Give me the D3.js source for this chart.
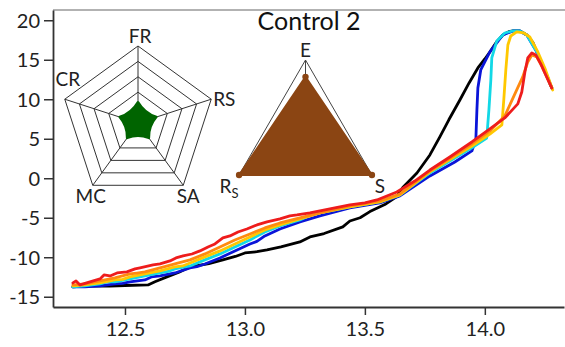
<!DOCTYPE html>
<html>
<head>
<meta charset="utf-8">
<script src="https://cdn.jsdelivr.net/npm/d3@7"></script>
<style>
  body { margin: 0; background: #fff; }
  svg { display: block; font-family: Lato, "Open Sans", sans-serif; }
</style>
</head>
<body>
<svg width="565" height="347"></svg>
<script>
// series data: [x, y] pairs
const black = [[12.283,-13.76],[12.342,-13.63],[12.4375,-13.65],[12.5,-13.58],[12.596,-13.51],[12.625,-13.1],[12.675,-12.49],[12.725,-11.9],[12.771,-11.23],[12.85,-10.8],[12.908,-10.34],[12.96,-9.9],[13.0,-9.46],[13.05,-9.3],[13.092,-9.08],[13.15,-8.7],[13.229,-8.06],[13.271,-7.43],[13.33,-7.0],[13.408,-6.16],[13.4375,-5.41],[13.48,-5.0],[13.521,-4.22],[13.583,-3.33],[13.633,-2.32],[13.658,-1.18],[13.717,0.67],[13.771,2.95],[13.8125,5.23],[13.85,7.4],[13.896,9.91],[13.935,12.1],[13.971,13.96],[14.0,15.1],[14.021,15.99],[14.05,17.3],[14.075,18.14],[14.1,18.55],[14.117,18.65],[14.146,18.65],[14.175,18.14],[14.2,17.2],[14.217,15.99],[14.25,13.7],[14.279,11.43]];
const blue = [[12.283,-13.76],[12.333,-13.76],[12.396,-13.63],[12.458,-13.38],[12.49,-13.3],[12.521,-13.13],[12.583,-12.87],[12.61,-12.5],[12.646,-12.37],[12.708,-11.99],[12.771,-11.35],[12.8,-11.2],[12.833,-10.85],[12.896,-10.09],[12.958,-9.2],[13.021,-8.32],[13.05,-8.0],[13.083,-7.3],[13.146,-6.42],[13.229,-5.53],[13.3125,-4.77],[13.4375,-3.76],[13.5625,-3.13],[13.646,-2.24],[13.771,0.29],[13.875,2.06],[13.946,3.46],[13.9625,4.85],[13.967,8.65],[13.971,11.43],[13.983,13.71],[14.021,15.99],[14.075,18.14],[14.117,18.65],[14.146,18.65],[14.175,18.14],[14.217,15.99],[14.279,11.43]];
const cyan = [[12.283,-13.76],[12.333,-13.63],[12.396,-13.38],[12.43,-13.1],[12.458,-13.13],[12.521,-12.75],[12.583,-12.37],[12.646,-11.99],[12.68,-11.8],[12.708,-11.48],[12.771,-11.1],[12.833,-10.34],[12.896,-9.58],[12.958,-8.7],[13.021,-7.81],[13.083,-6.8],[13.146,-6.04],[13.229,-5.28],[13.27,-4.7],[13.3125,-4.39],[13.4375,-3.63],[13.5625,-3.0],[13.646,-2.11],[13.771,0.67],[13.946,3.84],[14.008,5.1],[14.017,8.65],[14.025,12.44],[14.029,15.23],[14.05,17.38],[14.083,18.39],[14.117,18.65],[14.146,18.65],[14.175,18.14],[14.217,15.99],[14.279,11.43]];
const yellow = [[12.283,-13.63],[12.333,-13.51],[12.396,-13.25],[12.458,-12.87],[12.49,-12.8],[12.521,-12.49],[12.583,-12.11],[12.646,-11.73],[12.708,-11.23],[12.74,-11.1],[12.771,-10.72],[12.833,-9.96],[12.896,-9.2],[12.958,-8.32],[13.021,-7.43],[13.083,-6.54],[13.146,-5.91],[13.229,-5.15],[13.3125,-4.39],[13.4375,-3.63],[13.5625,-3.0],[13.646,-2.11],[13.771,0.8],[13.946,4.08],[14.021,5.6],[14.071,6.75],[14.079,9.91],[14.0875,13.71],[14.096,16.87],[14.108,18.01],[14.133,18.52],[14.1625,18.39],[14.1875,17.88],[14.221,15.99],[14.25,13.96],[14.283,11.18]];
const orange = [[12.283,-13.51],[12.333,-13.38],[12.396,-13.0],[12.458,-12.62],[12.521,-12.11],[12.55,-12.0],[12.583,-11.86],[12.646,-11.35],[12.708,-10.85],[12.771,-10.34],[12.833,-9.58],[12.896,-8.7],[12.958,-7.81],[13.021,-7.05],[13.083,-6.29],[13.146,-5.66],[13.229,-5.03],[13.3125,-4.39],[13.4375,-3.5],[13.5625,-2.87],[13.646,-1.99],[13.771,0.92],[13.946,4.34],[14.021,5.99],[14.083,7.88],[14.133,11.18],[14.158,12.83],[14.179,14.72],[14.196,15.61],[14.217,15.35],[14.2375,14.21],[14.258,12.83],[14.279,11.43]];
const red = [[12.283,-13.25],[12.296,-13.0],[12.3125,-13.51],[12.354,-13.13],[12.396,-12.75],[12.4125,-12.24],[12.4375,-12.37],[12.467,-11.99],[12.508,-11.86],[12.542,-11.48],[12.5625,-11.35],[12.617,-10.97],[12.646,-10.85],[12.6875,-10.47],[12.7125,-10.09],[12.742,-9.84],[12.779,-9.59],[12.8125,-9.2],[12.846,-8.7],[12.875,-8.32],[12.908,-7.56],[12.9375,-7.3],[12.971,-6.8],[13.008,-6.42],[13.05,-5.91],[13.092,-5.53],[13.146,-5.15],[13.1875,-4.77],[13.217,-4.65],[13.271,-4.39],[13.354,-3.89],[13.4375,-3.38],[13.5,-3.13],[13.55,-2.75],[13.633,-1.74],[13.708,-0.35],[13.771,1.04],[13.854,2.69],[13.946,4.59],[14.021,6.24],[14.083,7.63],[14.1375,9.41],[14.154,10.92],[14.167,13.46],[14.179,15.23],[14.196,15.86],[14.2125,15.61],[14.233,14.47],[14.254,13.07],[14.279,11.43]];

const seriesNames = ["black", "blue", "cyan", "yellow", "orange", "red"];
const seriesData = [black, blue, cyan, yellow, orange, red];
const seriesColors = ["#000000", "#0a14d8", "#12d8e6", "#ffc800", "#ff8a10", "#ee1c1c"];

const xTicks = [12.5, 13.0, 13.5, 14.0];
const yTicks = [-15, -10, -5, 0, 5, 10, 15, 20];

// radar inset (five axes) and triangle inset (three axes)
const radarLabels = ["FR", "RS", "SA", "MC", "CR"];
const radarValues = [0.27, 0.25, 0.24, 0.24, 0.25];
const radarRings = [0.4, 0.6, 0.8, 1.0];
const triLabels = ["E", "S", "R"];
const triValues = [0.78, 1.0, 1.0];

const title = "Control 2";

const svg = d3.select("svg");
const margin = { top: 10, right: 1, bottom: 40, left: 53 };
const width = 565, height = 347;

const x = d3.scaleLinear().domain([12.2, 14.33]).range([margin.left, width - margin.right]);
const y = d3.scaleLinear().domain([-16.3, 21.3]).range([height - margin.bottom, margin.top]);

// top frame line
svg.append("line")
  .attr("x1", margin.left).attr("x2", width)
  .attr("y1", margin.top).attr("y2", margin.top)
  .attr("stroke", "#999").attr("stroke-width", 1.6);

// axes
const xAxis = svg.append("g")
  .attr("transform", `translate(0,${height - margin.bottom})`)
  .call(d3.axisBottom(x).tickValues(xTicks).tickFormat(d3.format(".1f")).tickSize(8).tickPadding(7).tickSizeOuter(0));
const yAxis = svg.append("g")
  .attr("transform", `translate(${margin.left},0)`)
  .call(d3.axisLeft(y).tickValues(yTicks).tickFormat(d => String(d)).tickSize(9).tickPadding(4).tickSizeOuter(0));

[xAxis, yAxis].forEach(g => {
  g.select(".domain").attr("stroke", "#333").attr("stroke-width", 1.8);
  g.selectAll(".tick line").attr("stroke", "#333").attr("stroke-width", 1.5);
  g.selectAll("text").attr("font-family", "Lato, sans-serif").attr("font-size", 20).attr("fill", "#222");
});
yAxis.selectAll("text").attr("dy", "0.35em");

// curves
const line = d3.line().x(d => x(d[0])).y(d => y(d[1]));
svg.append("g")
  .selectAll("path")
  .data(seriesData)
  .join("path")
  .attr("d", line)
  .attr("fill", "none")
  .attr("stroke", (d, i) => seriesColors[i])
  .attr("stroke-width", 2.8)
  .attr("stroke-linejoin", "round")
  .attr("stroke-linecap", "round");

// title
svg.append("text")
  .attr("x", 309).attr("y", 30)
  .attr("text-anchor", "middle")
  .attr("font-size", 25)
  .attr("fill", "#111")
  .text(title);

// ---- radar inset ----
const rc = { x: 138, y: 123 };
const rR = 77;
const rAngle = d3.scaleLinear().domain([0, radarLabels.length]).range([-Math.PI / 2, 1.5 * Math.PI]);
const rRadius = d3.scaleLinear().domain([0, 1]).range([0, rR]);
const rPoint = (i, v) => [rc.x + rRadius(v) * Math.cos(rAngle(i)), rc.y + rRadius(v) * Math.sin(rAngle(i))];

const radar = svg.append("g");
radar.selectAll("polygon")
  .data(radarRings)
  .join("polygon")
  .attr("points", r => radarLabels.map((_, i) => rPoint(i, r).join(",")).join(" "))
  .attr("fill", "none")
  .attr("stroke", "#333")
  .attr("stroke-width", 1);
radar.selectAll("line")
  .data(radarLabels)
  .join("line")
  .attr("x1", rc.x).attr("y1", rc.y)
  .attr("x2", (d, i) => rPoint(i, 1)[0])
  .attr("y2", (d, i) => rPoint(i, 1)[1])
  .attr("stroke", "#333").attr("stroke-width", 1);

// green shape, edges pulled slightly inward
const pts = radarValues.map((v, i) => rPoint(i, v));
let dStr = `M${pts[0][0]},${pts[0][1]}`;
pts.forEach((p, i) => {
  const q = pts[(i + 1) % pts.length];
  const cx = rc.x + ((p[0] + q[0]) / 2 - rc.x) * 0.72;
  const cy = rc.y + ((p[1] + q[1]) / 2 - rc.y) * 0.72;
  dStr += `Q${cx},${cy} ${q[0]},${q[1]}`;
});
radar.append("path")
  .attr("d", dStr + "Z")
  .attr("fill", "#006400")
  .attr("stroke", "#006400")
  .attr("stroke-width", 2.5)
  .attr("stroke-linejoin", "round");

const radarLabelPos = [
  { dx: 2, dy: -3, anchor: "middle" },
  { dx: 2, dy: 7, anchor: "start" },
  { dx: 5, dy: 18, anchor: "middle" },
  { dx: -2, dy: 18, anchor: "middle" },
  { dx: 3, dy: -13, anchor: "middle" }
];
radar.selectAll("text")
  .data(radarLabels)
  .join("text")
  .attr("x", (d, i) => rPoint(i, 1)[0] + radarLabelPos[i].dx)
  .attr("y", (d, i) => rPoint(i, 1)[1] + radarLabelPos[i].dy)
  .attr("text-anchor", (d, i) => radarLabelPos[i].anchor)
  .attr("font-size", 19)
  .attr("fill", "#222")
  .text(d => d);

// ---- triangle inset ----
const tc = { x: 305.5, y: 136.7 };
const tR = 76.7;
const tAngle = d3.scaleLinear().domain([0, triLabels.length]).range([-Math.PI / 2, 1.5 * Math.PI]);
const tRadius = d3.scaleLinear().domain([0, 1]).range([0, tR]);
const tPoint = (i, v) => [tc.x + tRadius(v) * Math.cos(tAngle(i)), tc.y + tRadius(v) * Math.sin(tAngle(i))];

const tri = svg.append("g");
tri.append("polygon")
  .attr("points", triLabels.map((_, i) => tPoint(i, 1).join(",")).join(" "))
  .attr("fill", "none").attr("stroke", "#444").attr("stroke-width", 1);
tri.selectAll("line")
  .data(triLabels)
  .join("line")
  .attr("x1", tc.x).attr("y1", tc.y)
  .attr("x2", (d, i) => tPoint(i, 1)[0])
  .attr("y2", (d, i) => tPoint(i, 1)[1])
  .attr("stroke", "#444").attr("stroke-width", 1);
tri.append("polygon")
  .attr("points", triValues.map((v, i) => tPoint(i, v).join(",")).join(" "))
  .attr("fill", "#8b4513")
  .attr("stroke", "#8b4513")
  .attr("stroke-width", 2)
  .attr("stroke-linejoin", "round");
tri.selectAll("circle")
  .data(triValues)
  .join("circle")
  .attr("cx", (v, i) => tPoint(i, v)[0])
  .attr("cy", (v, i) => tPoint(i, v)[1])
  .attr("r", 3.2)
  .attr("fill", "#8b4513");

const triLabelPos = [
  { dx: 0, dy: -3, anchor: "middle" },
  { dx: 8, dy: 18, anchor: "middle" },
  { dx: -10, dy: 18, anchor: "middle" }
];
const triText = tri.selectAll("text")
  .data(triLabels)
  .join("text")
  .attr("x", (d, i) => tPoint(i, 1)[0] + triLabelPos[i].dx)
  .attr("y", (d, i) => tPoint(i, 1)[1] + triLabelPos[i].dy)
  .attr("text-anchor", (d, i) => triLabelPos[i].anchor)
  .attr("font-size", 19)
  .attr("fill", "#222")
  .text(d => d);
// subscript S on R
triText.filter(d => d === "R")
  .append("tspan")
  .attr("font-size", 13)
  .attr("dy", 5)
  .text("S");
</script>
</body>
</html>
